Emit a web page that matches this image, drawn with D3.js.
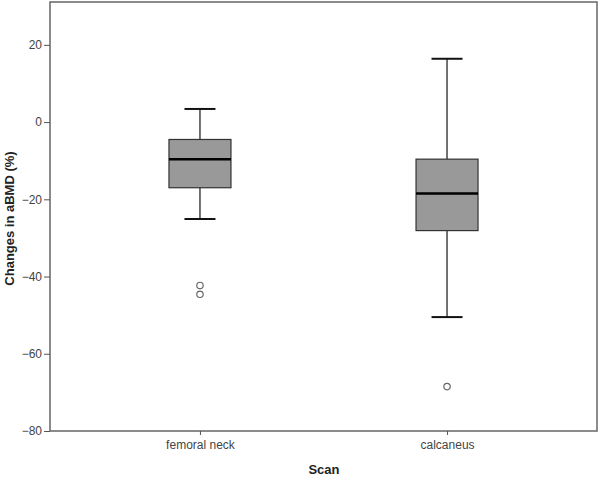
<!DOCTYPE html>
<html><head><meta charset="utf-8">
<script src="https://cdn.jsdelivr.net/npm/d3@7"></script>
<style>body{margin:0;background:#fff}svg{display:block}text{font-family:Arial,"Liberation Sans",sans-serif}</style>
</head><body>
<script>
const categories = ["femoral neck", "calcaneus"];
const whiskerLow = [-25.1, -50.5];
const q1 = [-17.0, -28.1];
const median = [-9.6, -18.5];
const q3 = [-4.5, -9.6];
const whiskerHigh = [3.4, 16.4];
const outliers = [[-42.3, -44.6], [-68.5]];
const yTicks = [20, 0, -20, -40, -60, -80];

const W = 600, H = 477;
const m = {left: 50, right: 3, top: 2, bottom: 46};
const svg = d3.select("body").append("svg").attr("width", W).attr("height", H);

const y = d3.scaleLinear().domain([-80, 31.1]).range([H - m.bottom, m.top]);
const x = d3.scalePoint().domain(categories).range([m.left, W - m.right]).padding(0.607);
const boxW = 62, capW = 31;

// frame
svg.append("rect").attr("x", m.left).attr("y", m.top)
  .attr("width", W - m.right - m.left).attr("height", H - m.bottom - m.top)
  .attr("fill", "none").attr("stroke", "#666").attr("stroke-width", 1.5);

const yAxis = svg.append("g").attr("transform", `translate(${m.left},0)`)
  .call(d3.axisLeft(y).tickValues(yTicks).tickSize(6).tickPadding(2).tickFormat(d3.format("d")));
yAxis.select(".domain").remove();
yAxis.selectAll("line").attr("stroke", "#555");
yAxis.selectAll("text").attr("font-size", 12).attr("fill", "#444");

const xAxis = svg.append("g").attr("transform", `translate(0,${H - m.bottom})`)
  .call(d3.axisBottom(x).tickSize(4).tickPadding(5));
xAxis.select(".domain").remove();
xAxis.selectAll("line").attr("stroke", "#555");
xAxis.selectAll("text").attr("font-size", 12).attr("fill", "#444");

const g = svg.selectAll("g.box").data(categories).enter().append("g").attr("class", "box");
g.append("line").attr("x1", d => x(d)).attr("x2", d => x(d))
  .attr("y1", (d, i) => y(whiskerHigh[i])).attr("y2", (d, i) => y(q3[i]))
  .attr("stroke", "#444").attr("stroke-width", 1.5);
g.append("line").attr("x1", d => x(d)).attr("x2", d => x(d))
  .attr("y1", (d, i) => y(q1[i])).attr("y2", (d, i) => y(whiskerLow[i]))
  .attr("stroke", "#444").attr("stroke-width", 1.5);
g.append("line").attr("x1", d => x(d) - capW / 2).attr("x2", d => x(d) + capW / 2)
  .attr("y1", (d, i) => y(whiskerHigh[i])).attr("y2", (d, i) => y(whiskerHigh[i]))
  .attr("stroke", "#111").attr("stroke-width", 2);
g.append("line").attr("x1", d => x(d) - capW / 2).attr("x2", d => x(d) + capW / 2)
  .attr("y1", (d, i) => y(whiskerLow[i])).attr("y2", (d, i) => y(whiskerLow[i]))
  .attr("stroke", "#111").attr("stroke-width", 2);
g.append("rect").attr("x", d => x(d) - boxW / 2).attr("width", boxW)
  .attr("y", (d, i) => y(q3[i])).attr("height", (d, i) => y(q1[i]) - y(q3[i]))
  .attr("fill", "#999").attr("stroke", "#333").attr("stroke-width", 1.2);
g.append("line").attr("x1", d => x(d) - boxW / 2).attr("x2", d => x(d) + boxW / 2)
  .attr("y1", (d, i) => y(median[i])).attr("y2", (d, i) => y(median[i]))
  .attr("stroke", "#000").attr("stroke-width", 2.5);
g.each(function(d, i) {
  d3.select(this).selectAll("circle").data(outliers[i]).enter().append("circle")
    .attr("cx", x(d)).attr("cy", v => y(v)).attr("r", 3.2)
    .attr("fill", "none").attr("stroke", "#666").attr("stroke-width", 1.2);
});

svg.append("text").attr("transform", `translate(14,${(m.top + H - m.bottom) / 2 + 2}) rotate(-90)`)
  .attr("text-anchor", "middle").attr("font-size", 13).attr("font-weight", "bold").attr("fill", "#222")
  .text("Changes in aBMD (%)");
svg.append("text").attr("x", 324).attr("y", 474).attr("text-anchor", "middle")
  .attr("font-size", 13).attr("font-weight", "bold").attr("fill", "#222").text("Scan");
</script>
</body></html>
